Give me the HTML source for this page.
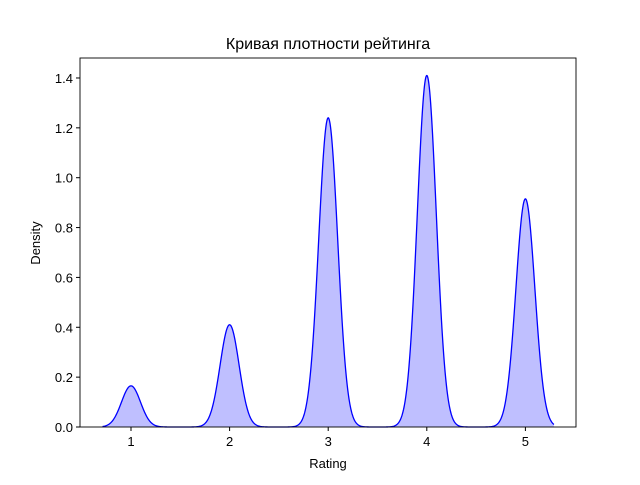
<!DOCTYPE html>
<html><head><meta charset="utf-8"><style>
body{margin:0;background:#fff}
svg text{font-family:"Liberation Sans","DejaVu Sans",sans-serif;fill:#000}
</style></head><body>
<svg id="chart" width="640" height="480" xmlns="http://www.w3.org/2000/svg">
<rect width="640" height="480" fill="#fff"/>
<text x="328" y="49" text-anchor="middle" font-size="16">Кривая плотности рейтинга</text>
<g id="marks"></g>
<g id="axes"></g>
<text x="328" y="468" text-anchor="middle" font-size="13">Rating</text>
<text x="40" y="243" text-anchor="middle" font-size="13" transform="rotate(-90 40 243)">Density</text>
</svg>
<script>
const ratings=[1,2,3,4,5];
const peakDensity=[0.165,0.41,1.24,1.41,0.915];
const xTicks=[1,2,3,4,5];
const yTicks=[0,0.2,0.4,0.6,0.8,1.0,1.2,1.4];
const yTickLabels=["0.0","0.2","0.4","0.6","0.8","1.0","1.2","1.4"];

const L=80,R=576,T=58,B=427;
const x0=1-51/98.6, x1=x0+(R-L)/98.6;
const yMax=(B-T)/(49.86/0.2);
const sx=v=>L+(v-x0)/(x1-x0)*(R-L);
const sy=v=>B-v/yMax*(B-T);
const NS="http://www.w3.org/2000/svg";
const total=peakDensity.reduce((a,b)=>a+b,0);
const sigma=1/(total*Math.sqrt(2*Math.PI));
const weights=peakDensity.map(p=>p/total);
function dens(x){let s=0;ratings.forEach((r,i)=>{s+=weights[i]*Math.exp(-0.5*((x-r)/sigma)**2)});return s/(sigma*Math.sqrt(2*Math.PI));}
const lo=Math.min(...ratings)-3*sigma, hi=Math.max(...ratings)+3*sigma;
let pts=[];
for(let i=0;i<=1000;i++){const x=lo+(hi-lo)*i/1000;pts.push([sx(x),sy(dens(x))]);}
const line=pts.map((p,i)=>(i?"L":"M")+p[0].toFixed(2)+","+p[1].toFixed(2)).join("");
const marks=document.getElementById("marks");
const fill=document.createElementNS(NS,"path");
fill.setAttribute("d",line+`L${sx(hi)},${sy(0)}L${sx(lo)},${sy(0)}Z`);
fill.setAttribute("fill","rgba(0,0,255,0.25)");


marks.appendChild(fill);
const ln=document.createElementNS(NS,"path");
ln.setAttribute("d",line);ln.setAttribute("fill","none");ln.setAttribute("stroke","#0000ff");ln.setAttribute("stroke-width","1.3");


marks.appendChild(ln);
const ax=document.getElementById("axes");
const frame=document.createElementNS(NS,"rect");
frame.setAttribute("x",L);frame.setAttribute("y",T);frame.setAttribute("width",R-L);frame.setAttribute("height",B-T);
frame.setAttribute("fill","none");frame.setAttribute("stroke","#000");frame.setAttribute("stroke-width","0.9");


ax.appendChild(frame);
xTicks.forEach(v=>{
 const t=document.createElementNS(NS,"line");
 t.setAttribute("x1",sx(v));t.setAttribute("x2",sx(v));t.setAttribute("y1",B);t.setAttribute("y2",B+4);t.setAttribute("stroke","#000");
 
 
 ax.appendChild(t);
 const tx=document.createElementNS(NS,"text");
 tx.setAttribute("x",sx(v));tx.setAttribute("y",B+19);tx.setAttribute("text-anchor","middle");tx.setAttribute("font-size","13");
 tx.textContent=v;
 
 
 ax.appendChild(tx);
});
yTicks.forEach((v,i)=>{
 const t=document.createElementNS(NS,"line");
 t.setAttribute("x1",L-4);t.setAttribute("x2",L);t.setAttribute("y1",sy(v));t.setAttribute("y2",sy(v));t.setAttribute("stroke","#000");
 
 
 ax.appendChild(t);
 const tx=document.createElementNS(NS,"text");
 tx.setAttribute("x",L-7);tx.setAttribute("y",sy(v)+5);tx.setAttribute("text-anchor","end");tx.setAttribute("font-size","13");
 tx.textContent=yTickLabels[i];
 
 
 ax.appendChild(tx);
});
</script>
</body></html>
